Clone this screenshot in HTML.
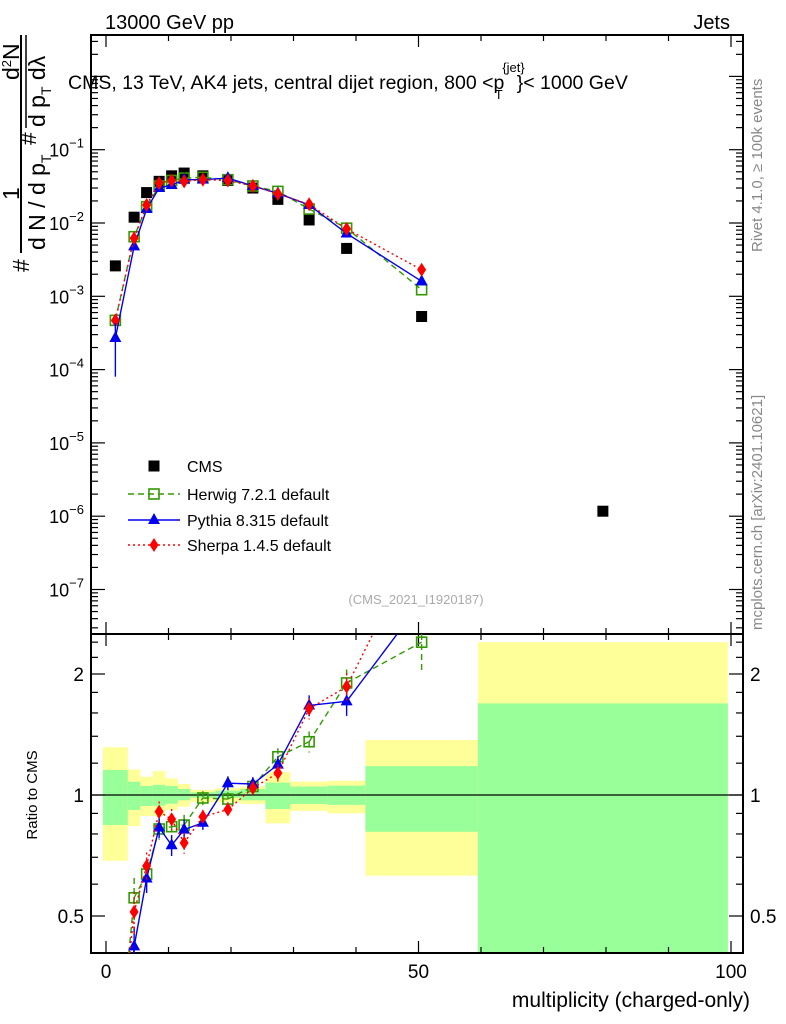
<!DOCTYPE html>
<html><head><meta charset="utf-8"><style>
html,body{margin:0;padding:0;background:#fff;width:786px;height:1024px;overflow:hidden;position:relative;}
svg{display:block;position:absolute;left:0;top:0;font-family:"Liberation Sans",sans-serif;}
</style></head><body>
<svg id="chart" width="786" height="1024" viewBox="0 0 786 1024" xmlns="http://www.w3.org/2000/svg">
<defs>
<clipPath id="clipMain"><rect x="91" y="35" width="652" height="599"/></clipPath>
<clipPath id="clipRatio"><rect x="91" y="634" width="652" height="319"/></clipPath>
</defs>
<g id="bands" clip-path="url(#clipRatio)"></g>
<g id="axes"></g>
<g id="marks"></g>
<text x="105" y="29" font-size="20">13000 GeV pp</text>
<text x="730" y="29" font-size="20" text-anchor="end">Jets</text>
<text x="68" y="89" font-size="19.5">CMS, 13 TeV, AK4 jets, central dijet region, 800 &lt;p<tspan font-size="13" dy="-17" dx="-2">{jet}</tspan><tspan font-size="13" dx="-30" dy="27">T</tspan><tspan dy="-10" dx="14">}&lt; 1000 GeV</tspan></text>
<g font-size="23">
<line x1="21" y1="35" x2="21" y2="253" stroke="#000" stroke-width="2"/>
<text transform="translate(19,200) rotate(-90)">1</text>
<text transform="translate(29,272) rotate(-90)">#</text>
<text transform="translate(45,250) rotate(-90)">d N / d p<tspan font-size="14" dy="6">T</tspan></text>
<text transform="translate(36,145) rotate(-90)">#</text>
<text transform="translate(19,80) rotate(-90)">d<tspan font-size="13" dy="-8">2</tspan><tspan dy="8">N</tspan></text>
<line x1="26" y1="35" x2="26" y2="128" stroke="#000" stroke-width="1.5"/>
<text transform="translate(45,127) rotate(-90)">d p<tspan font-size="14" dy="6">T</tspan><tspan dy="-6"> dλ</tspan></text>
</g>
<text transform="translate(762,252) rotate(-90)" font-size="15" fill="#888">Rivet 4.1.0, ≥ 100k events</text>
<text transform="translate(762,630) rotate(-90)" font-size="15" fill="#888">mcplots.cern.ch [arXiv:2401.10621]</text>
<text x="416" y="604" font-size="13" fill="#aaa" text-anchor="middle">(CMS_2021_I1920187)</text>
<text transform="translate(37,795) rotate(-90)" font-size="15" text-anchor="middle">Ratio to CMS</text>
<text x="750" y="1007" font-size="21" text-anchor="end">multiplicity (charged-only)</text>
<g id="legend" font-size="16"></g>
</svg>
<script>
const centers=[1.5,4.5,6.5,8.5,10.5,12.5,15.5,19.5,23.5,27.5,32.5,38.5,50.5,79.5];
const edges=[-0.5,3.5,5.5,7.5,9.5,11.5,13.5,17.5,21.5,25.5,29.5,35.5,41.5,59.5,99.5];
const cmsValues=[0.0026,0.012,0.026,0.037,0.044,0.048,0.044,0.038,0.030,0.021,0.011,0.0045,0.00053,1.17e-6];
const herwigValues=[4.7e-4,0.0065,0.0167,0.032,0.038,0.041,0.042,0.039,0.032,0.027,0.0155,0.0085,0.00123];
const pythiaValues=[2.7e-4,0.0048,0.0155,0.030,0.033,0.039,0.039,0.041,0.032,0.0254,0.0176,0.0072,0.0016];
const sherpaValues=[4.7e-4,0.0062,0.0176,0.035,0.038,0.037,0.039,0.038,0.032,0.025,0.018,0.0083,0.0023];
const herwigRatio=[0.18,0.555,0.636,0.823,0.834,0.842,0.983,0.977,1.05,1.245,1.357,1.90,2.40];
const pythiaRatio=[0.10,0.42,0.62,0.83,0.75,0.82,0.853,1.07,1.065,1.19,1.67,1.71,3.03];
const sherpaRatio=[0.18,0.512,0.666,0.909,0.87,0.76,0.883,0.92,1.04,1.134,1.64,1.86,4.4];
const ratioErr=[0.3,0.12,0.08,0.06,0.06,0.06,0.04,0.04,0.04,0.05,0.06,0.08,0.15];
const yellowHi=[1.314,1.158,1.11,1.147,1.10,1.065,1.03,1.04,1.05,1.14,1.08,1.085,1.37,2.4];
const yellowLo=[0.686,0.837,0.887,0.887,0.918,0.935,0.96,0.96,0.95,0.85,0.913,0.9,0.63,0.3];
const greenHi=[1.154,1.079,1.053,1.06,1.053,1.035,1.015,1.025,1.035,1.073,1.05,1.055,1.18,1.69];
const greenLo=[0.842,0.918,0.939,0.94,0.951,0.97,0.985,0.985,0.97,0.923,0.95,0.945,0.81,0.3];
const xTicks=[0,50,100];
const yDecades=[-7,-6,-5,-4,-3,-2,-1];
const ratioTicks=[0.5,1,2];

const NS="http://www.w3.org/2000/svg";
const X=v=>106+v*6.25;
const Y=v=>149.7-(Math.log10(v)+1)*73.3;
const R=r=>795-Math.log2(r)*121;
const RT=634,RB=953;
const clampR=y=>Math.max(RT,Math.min(RB,y));
function mk(tag,attrs,parent){const e=document.createElementNS(NS,tag);for(const k in attrs)e.setAttribute(k,attrs[k]);parent.appendChild(e);return e;}
const axes=document.getElementById('axes'),marks=document.getElementById('marks'),bands=document.getElementById('bands'),legend=document.getElementById('legend');

for(let i=0;i<yellowHi.length;i++){
 const x0=X(edges[i]),x1=X(edges[i+1]);
 const yh=clampR(R(yellowHi[i])),yl=clampR(R(yellowLo[i])),gh=clampR(R(greenHi[i])),gl=clampR(R(greenLo[i]));
 let y=mk('rect',{x:x0,y:yh,width:x1-x0,height:yl-yh,fill:'#ffff99'},bands);
 
 
 let g=mk('rect',{x:x0,y:gh,width:x1-x0,height:gl-gh,fill:'#99ff99'},bands);
 
 
}
mk('rect',{x:91,y:35,width:652,height:599,fill:'none',stroke:'#000','stroke-width':2},axes);
mk('rect',{x:91,y:634,width:652,height:319,fill:'none',stroke:'#000','stroke-width':2},axes);
mk('line',{x1:91,y1:R(1),x2:743,y2:R(1),stroke:'#000','stroke-width':1.2},axes);
for(let v=0;v<=100;v+=10){
 const maj=v%50===0,L=maj?12:6,x=X(v);
 [[35,1],[634,-1],[634,1],[953,-1]].forEach(([y0,d])=>mk('line',{x1:x,y1:y0,x2:x,y2:y0+d*L,stroke:'#000','stroke-width':1.2},axes));
}
xTicks.forEach(v=>{const t=mk('text',{x:X(v),y:978,'font-size':19,'text-anchor':'middle'},axes);t.textContent=v;
 
 });
for(let d=-8;d<=0;d++){for(let m=1;m<10;m++){const v=m*Math.pow(10,d),y=Y(v);if(y<35||y>634)continue;const L=m===1?14:7;
 mk('line',{x1:91,y1:y,x2:91+L,y2:y,stroke:'#000','stroke-width':1.2},axes);mk('line',{x1:743,y1:y,x2:743-L,y2:y,stroke:'#000','stroke-width':1.2},axes);}}
yDecades.forEach(d=>{const t=mk('text',{x:84,y:Y(Math.pow(10,d))+7,'font-size':18,'text-anchor':'end'},axes);
 t.textContent='10';
 const sp=mk('tspan',{'font-size':13,dy:-9},t);sp.textContent='−'+(-d);
 
 });
[0.5,0.6,0.7,0.8,0.9,1,1.2,1.4,1.6,1.8,2,2.2,2.4].forEach(r=>{const y=R(r),L=ratioTicks.includes(r)?14:7;
 mk('line',{x1:91,y1:y,x2:91+L,y2:y,stroke:'#000','stroke-width':1.2},axes);mk('line',{x1:743,y1:y,x2:743-L,y2:y,stroke:'#000','stroke-width':1.2},axes);});
ratioTicks.forEach(r=>{[[84,'end'],[750,'start']].forEach(([x,a])=>{const t=mk('text',{x:x,y:R(r)+7,'font-size':19,'text-anchor':a},axes);t.textContent=r;
 
 });});

function marker(type,x,y,color,parent){
 let e;
 if(type==='sq') e=mk('rect',{x:x-5,y:y-5,width:10,height:10,fill:'none',stroke:color,'stroke-width':1.6},parent);
 else if(type==='tri') e=mk('polygon',{points:`${x},${y-7} ${x-6},${y+4} ${x+6},${y+4}`,fill:color},parent);
 else if(type==='dia') e=mk('polygon',{points:`${x},${y-7} ${x-4.5},${y} ${x},${y+7} ${x+4.5},${y}`,fill:color},parent);
 else e=mk('rect',{x:x-5.5,y:y-5.5,width:11,height:11,fill:color},parent);
 return e;
}
// clip a segment to the ratio panel's vertical range
function clipSeg(x1,y1,x2,y2){
 let t0=0,t1=1;const dy=y2-y1;
 const chk=(p,q)=>{if(p===0)return q>=0;const r=q/p;if(p<0){if(r>t1)return false;if(r>t0)t0=r;}else{if(r<t0)return false;if(r<t1)t1=r;}return true;};
 if(!chk(-dy,y1-RT))return null;
 if(!chk(dy,RB-y1))return null;
 return [x1+(x2-x1)*t0,y1+dy*t0,x1+(x2-x1)*t1,y1+dy*t1];
}
const series=[
 {name:'herwig',vals:herwigValues,ratio:herwigRatio,color:'#339900',type:'sq',dash:'6,4',label:'Herwig 7.2.1 default'},
 {name:'pythia',vals:pythiaValues,ratio:pythiaRatio,color:'#0000ee',type:'tri',dash:'none',label:'Pythia 8.315 default'},
 {name:'sherpa',vals:sherpaValues,ratio:sherpaRatio,color:'#ff0000',type:'dia',dash:'2,3',label:'Sherpa 1.4.5 default'}];
const gm=mk('g',{'clip-path':'url(#clipMain)'},marks);
const gr=mk('g',{'clip-path':'url(#clipRatio)'},marks);
cmsValues.forEach((v,i)=>{const e=marker('cms',X(centers[i]),Y(v),'#000',gm);
 
 });
series.forEach(s=>{
 const pm=s.vals.map((v,i)=>X(centers[i])+','+Y(v)).join(' ');
 const l=mk('polyline',{points:pm,fill:'none',stroke:s.color,'stroke-width':1.4,'stroke-dasharray':s.dash},gm);
 
 
 s.vals.forEach((v,i)=>{const e=marker(s.type,X(centers[i]),Y(v),s.color,gm);
  
  });
 for(let i=0;i+1<s.ratio.length;i++){
  const c=clipSeg(X(centers[i]),R(s.ratio[i]),X(centers[i+1]),R(s.ratio[i+1]));
  if(!c)continue;
  const seg=mk('line',{x1:c[0],y1:c[1],x2:c[2],y2:c[3],stroke:s.color,'stroke-width':1.4,'stroke-dasharray':s.dash},gr);
  
  
 }
 s.ratio.forEach((r,i)=>{const x=X(centers[i]);
  const ya=clampR(R(r*(1+ratioErr[i]))),yb=clampR(R(r*(1-ratioErr[i])));
  if(yb>ya) mk('line',{x1:x,y1:ya,x2:x,y2:yb,stroke:s.color,'stroke-width':1.4,'stroke-dasharray':s.dash},gr);
  const ym=R(r);
  if(ym<RT||ym>RB)return;
  const e=marker(s.type,x,ym,s.color,gr);
  
  });
});
mk('line',{x1:X(centers[0]),y1:Y(4.3e-4),x2:X(centers[0]),y2:Y(8e-5),stroke:'#0000ee','stroke-width':1.4},gm);
const ly=[466,494,520,545];
let c=marker('cms',154,ly[0],'#000',legend);


let t0=mk('text',{x:187,y:ly[0]+6},legend);t0.textContent='CMS';


series.forEach((s,k)=>{const y=ly[k+1];
 mk('line',{x1:128,y1:y,x2:180,y2:y,stroke:s.color,'stroke-width':1.4,'stroke-dasharray':s.dash},legend);
 const m=marker(s.type,154,y,s.color,legend);
 
 
 const t=mk('text',{x:187,y:y+6},legend);t.textContent=s.label;
 
 
});
</script>
</body></html>
